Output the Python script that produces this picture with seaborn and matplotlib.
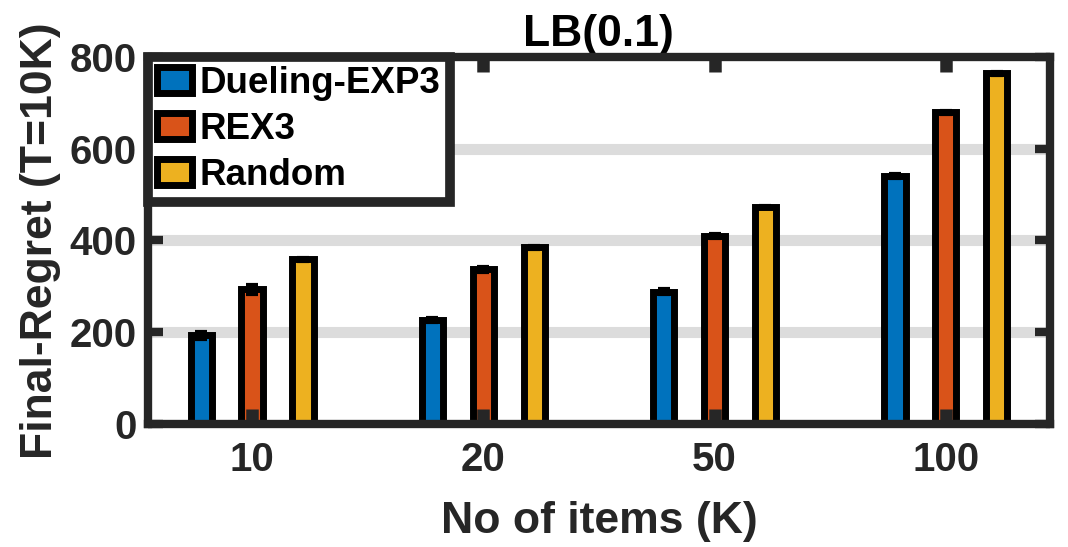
import pandas as pd
import matplotlib
matplotlib.use('Agg')
import matplotlib.pyplot as plt
import seaborn as sns

# values
items = ['10', '20', '50', '100']
algos = ['Dueling-EXP3', 'REX3', 'Random']
dueling = [193, 226, 288, 540]
rex3 = [293, 337, 410, 679]
rand = [359, 385, 473, 764]
dueling_err = [8, 4, 5, 5]
rex3_err = [10, 6, 5, 4]
rand_err = [3, 3, 3, 3]

colors = ['#0072BD', '#D95319', '#EDB120']

rows = []
for algo, vals in zip(algos, [dueling, rex3, rand]):
    for k, v in zip(items, vals):
        rows.append({'items': k, 'regret': v, 'algo': algo})
df = pd.DataFrame(rows)

sns.set_style('white')
plt.rcParams['font.family'] = ['Liberation Sans', 'DejaVu Sans']
plt.rcParams['font.weight'] = 'bold'
plt.rcParams['text.color'] = 'black'
plt.rcParams['xtick.labelcolor'] = '#262626'
plt.rcParams['ytick.labelcolor'] = '#262626'
plt.rcParams['axes.labelcolor'] = '#262626'

fig = plt.figure(figsize=(10.68, 5.47), dpi=100)
ax = fig.add_axes([0.1386, 0.225, 0.983 - 0.1386, 0.896 - 0.225])

# grid lines behind the bars
for yv in [200, 400, 600]:
    ax.axhline(yv, color='#dcdcdc', linewidth=8, zorder=0)

sns.barplot(data=df, x='items', y='regret', hue='algo', palette=colors,
            width=0.66, errorbar=None, edgecolor='black', linewidth=5,
            saturation=1, ax=ax)

bar_w = 0.092
for cont, errs in zip(ax.containers, [dueling_err, rex3_err, rand_err]):
    xs, ys = [], []
    for p in cont.patches:
        cx = p.get_x() + p.get_width() / 2
        p.set_x(cx - bar_w / 2)
        p.set_width(bar_w)
        p.set_zorder(1)
        xs.append(cx)
        ys.append(p.get_height())
    ax.errorbar(xs, ys, yerr=errs, fmt='none', ecolor='black',
                elinewidth=5, capsize=4, capthick=3, zorder=3)

ax.set_xlim(-0.45, 3.45)
ax.set_ylim(0, 800)
ax.set_yticks([0, 200, 400, 600, 800])
ax.set_axisbelow(False)
ax.xaxis.set_zorder(4)
ax.yaxis.set_zorder(4)

for s in ax.spines.values():
    s.set_visible(True)
    s.set_color('#262626')
    s.set_linewidth(6)
    s.set_zorder(5)

ax.tick_params(direction='in', length=11, width=6, color='#262626',
               top=True, right=True, bottom=True, left=True, labelsize=29)
ax.tick_params(axis='x', pad=12, width=9)
ax.tick_params(axis='y', pad=8)
for lab in ax.get_xticklabels() + ax.get_yticklabels():
    lab.set_fontweight('bold')

ax.set_xlabel('No of items (K)', fontsize=32, fontweight='bold', labelpad=16)
ax.set_ylabel('Final-Regret (T=10K)', fontsize=32, fontweight='bold', labelpad=6)
ax.set_title('LB(0.1)', fontsize=32, fontweight='bold', pad=8, color='black')

leg = ax.legend(loc='upper left', borderaxespad=0, fancybox=False,
                framealpha=1, edgecolor='#262626', handlelength=0.95,
                handleheight=0.7, handletextpad=0.2, labelspacing=0.3,
                borderpad=0.25, prop={'size': 26.5, 'weight': 'bold'})
leg.get_frame().set_linewidth(7)
leg.set_zorder(6)
for t in leg.get_texts():
    t.set_color('black')

fig.savefig('out.png', dpi=100)
